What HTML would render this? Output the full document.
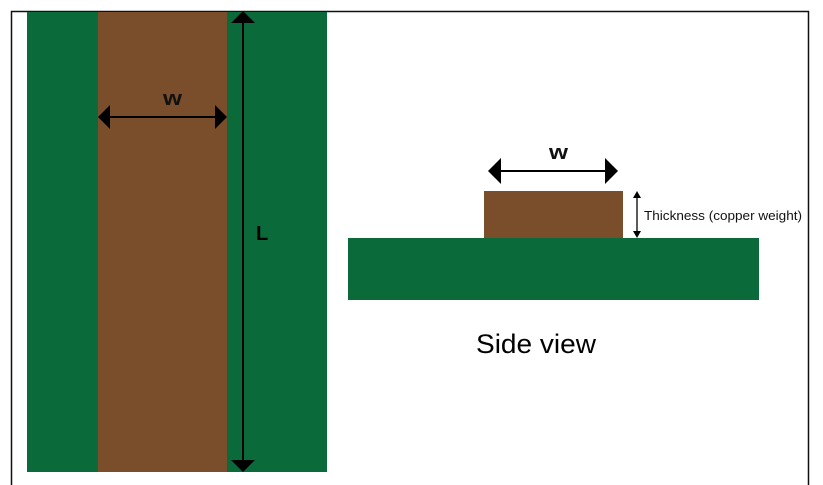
<!DOCTYPE html>
<html><head><meta charset="utf-8"><style>
html,body{margin:0;padding:0;background:#fff;}
svg{display:block;}
</style></head><body>
<svg width="823" height="485" viewBox="0 0 823 485" xmlns="http://www.w3.org/2000/svg">
<rect x="0" y="0" width="823" height="485" fill="#fff"/>
<path d="M11.5 485 V11.5 H808.5 V485" fill="none" stroke="#111" stroke-width="1.5"/>
<rect x="27" y="12" width="300" height="460" fill="#0a6a3a"/>
<rect x="98" y="12" width="129" height="460" fill="#7a4d2b"/>
<line x1="243" y1="22" x2="243" y2="462" stroke="#000" stroke-width="2"/>
<polygon points="243,11 231,23 255,23" fill="#000"/>
<polygon points="243,472 231,460 255,460" fill="#000"/>
<text x="256" y="240" font-family="Liberation Sans, sans-serif" font-weight="bold" font-size="20" fill="#000">L</text>
<line x1="108" y1="117" x2="217" y2="117" stroke="#000" stroke-width="2"/>
<polygon points="98,117 110,105 110,129" fill="#000"/>
<polygon points="227,117 215,105 215,129" fill="#000"/>
<text x="163" y="105" font-family="Liberation Sans, sans-serif" font-weight="bold" font-size="20" textLength="19" lengthAdjust="spacingAndGlyphs" fill="#111">w</text>
<rect x="484" y="191" width="139" height="47" fill="#7a4d2b"/>
<rect x="348" y="238" width="411" height="62" fill="#0a6a3a"/>
<line x1="498" y1="171" x2="608" y2="171" stroke="#000" stroke-width="2"/>
<polygon points="488,171 501,158 501,184" fill="#000"/>
<polygon points="618,171 605,158 605,184" fill="#000"/>
<text x="549" y="159" font-family="Liberation Sans, sans-serif" font-weight="bold" font-size="20" textLength="19" lengthAdjust="spacingAndGlyphs" fill="#111">w</text>
<line x1="637" y1="196" x2="637" y2="234" stroke="#000" stroke-width="1.3"/>
<polygon points="637,191 633,198 641,198" fill="#000"/>
<polygon points="637,238 633,231 641,231" fill="#000"/>
<text x="644" y="220" font-family="Liberation Sans, sans-serif" font-size="13" textLength="158" lengthAdjust="spacingAndGlyphs" fill="#111">Thickness (copper weight)</text>
<text x="476" y="353" font-family="Liberation Sans, sans-serif" font-size="27" textLength="120" lengthAdjust="spacingAndGlyphs" fill="#000">Side view</text>
</svg>
</body></html>
